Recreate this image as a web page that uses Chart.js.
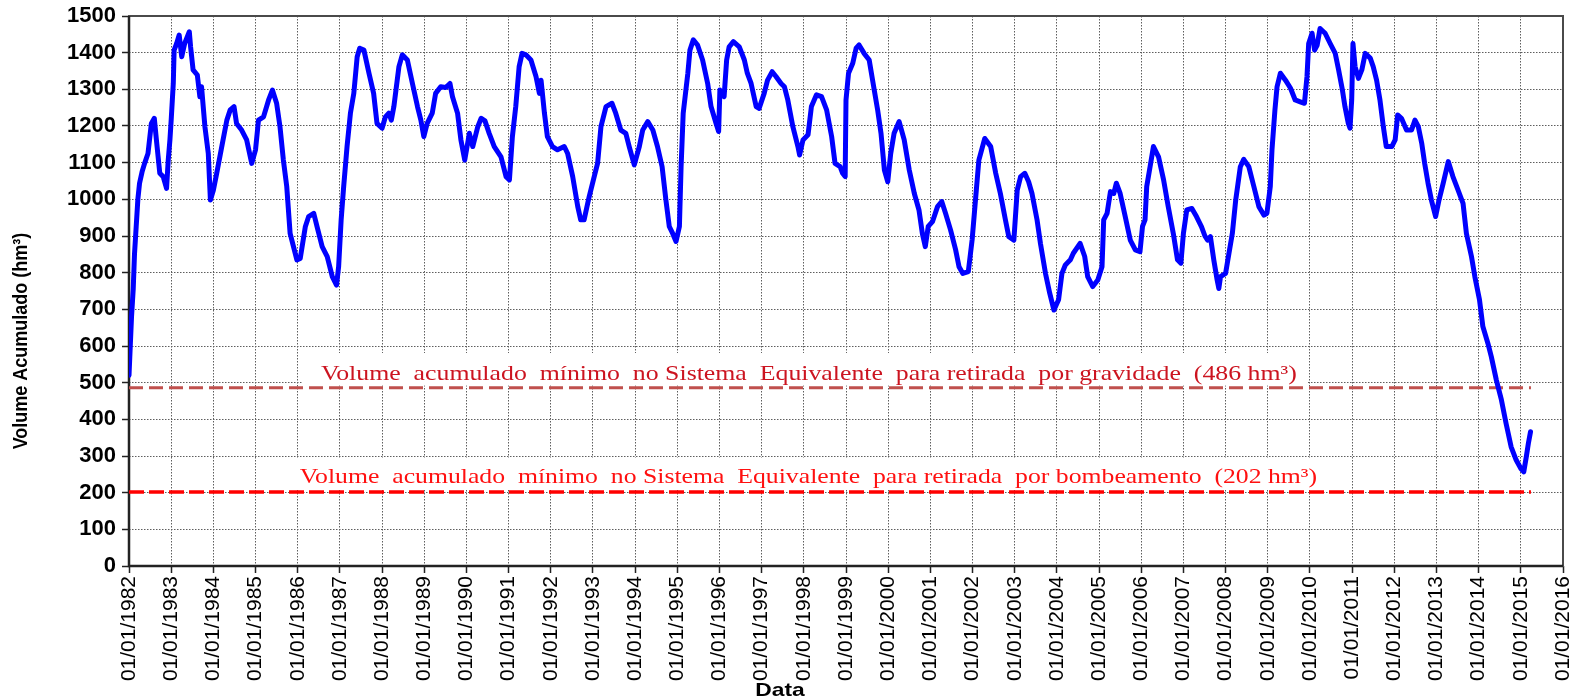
<!DOCTYPE html>
<html>
<head>
<meta charset="utf-8">
<script src="https://cdn.jsdelivr.net/npm/chart.js@4.4.1/dist/chart.umd.min.js"></script>
<style>
html,body{margin:0;padding:0;background:#fff;}
#wrap{width:1585px;height:700px;}
</style>
</head>
<body>
<div id="wrap"><canvas id="volumeChart" width="1585" height="700"></canvas></div>
<script>
/* ===== DADOS ===== */
const anos = [
1982.00,1982.03,1982.06,1982.10,1982.13,1982.17,1982.21,1982.25,1982.31,1982.37,1982.45,1982.53,1982.60,1982.65,1982.73,1982.81,1982.89,1982.93,1982.97,
1983.00,1983.05,1983.07,1983.13,1983.19,1983.25,1983.32,1983.43,1983.46,1983.52,1983.62,1983.68,1983.72,1983.80,1983.88,1983.93,
1984.00,1984.08,1984.20,1984.32,1984.40,1984.49,1984.55,1984.67,1984.79,1984.91,
1985.00,1985.07,1985.19,1985.31,1985.40,1985.50,1985.58,1985.66,1985.74,1985.82,1985.90,1985.98,
1986.06,1986.18,1986.26,1986.38,1986.46,1986.58,1986.70,1986.82,1986.92,1986.97,
1987.03,1987.09,1987.17,1987.25,1987.33,1987.41,1987.47,1987.57,1987.69,1987.80,1987.88,
1988.00,1988.08,1988.16,1988.22,1988.28,1988.40,1988.48,1988.60,1988.72,1988.84,1988.92,1988.99,
1989.07,1989.19,1989.27,1989.39,1989.51,1989.61,1989.67,1989.79,1989.87,1989.96,
1990.07,1990.15,1990.27,1990.35,1990.44,1990.54,1990.66,1990.82,1990.94,
1991.02,1991.09,1991.17,1991.25,1991.32,1991.41,1991.53,1991.65,1991.73,1991.77,1991.85,1991.92,
1992.04,1992.16,1992.32,1992.40,1992.52,1992.64,1992.71,1992.79,1992.91,
1993.03,1993.11,1993.19,1993.31,1993.45,1993.54,1993.66,1993.78,1993.86,1993.98,
1994.10,1994.18,1994.30,1994.42,1994.53,1994.64,1994.73,1994.81,1994.89,1994.97,
1995.05,1995.09,1995.14,1995.25,1995.30,1995.38,1995.48,1995.60,1995.72,1995.80,1995.92,1995.98,
1996.01,1996.11,1996.17,1996.23,1996.33,1996.47,1996.59,1996.66,1996.75,1996.87,1996.94,
1997.06,1997.14,1997.25,1997.34,1997.46,1997.54,1997.62,1997.74,1997.86,1997.90,1997.98,
1998.10,1998.18,1998.30,1998.42,1998.54,1998.66,1998.74,1998.86,1998.92,1998.98,
1999.00,1999.06,1999.16,1999.24,1999.31,1999.43,1999.55,1999.63,1999.75,1999.83,1999.91,1999.99,
2000.06,2000.14,2000.26,2000.38,2000.50,2000.62,2000.73,2000.81,2000.88,2000.95,
2001.05,2001.17,2001.27,2001.36,2001.48,2001.60,2001.68,2001.77,2001.90,2001.99,
2002.07,2002.15,2002.29,2002.43,2002.55,2002.66,2002.78,2002.86,2002.98,
2003.06,2003.14,2003.24,2003.33,2003.41,2003.53,2003.61,2003.73,2003.83,2003.93,
2004.04,2004.12,2004.20,2004.32,2004.39,2004.55,2004.66,2004.73,2004.85,2004.97,
2005.07,2005.11,2005.19,2005.27,2005.35,2005.41,2005.50,2005.62,2005.74,2005.86,2005.97,
2006.03,2006.09,2006.13,2006.21,2006.29,2006.41,2006.53,2006.64,2006.76,2006.86,2006.94,
2007.00,2007.08,2007.20,2007.31,2007.43,2007.51,2007.57,2007.64,2007.72,2007.80,2007.84,2007.88,
2008.00,2008.08,2008.16,2008.24,2008.35,2008.43,2008.55,2008.67,2008.79,2008.91,2008.98,
2009.06,2009.10,2009.17,2009.22,2009.30,2009.42,2009.54,2009.65,2009.77,2009.87,2009.93,2009.97,
2010.05,2010.11,2010.17,2010.24,2010.36,2010.48,2010.60,2010.68,2010.77,2010.83,2010.91,2010.95,2010.99,
2011.02,2011.07,2011.15,2011.23,2011.31,2011.43,2011.50,2011.58,2011.66,2011.74,2011.81,2011.94,
2012.02,2012.08,2012.17,2012.29,2012.41,2012.49,2012.57,2012.65,2012.72,2012.80,2012.88,2012.98,
2013.06,2013.16,2013.28,2013.39,2013.51,2013.63,2013.71,2013.83,2013.91,
2014.02,2014.10,2014.22,2014.30,2014.42,2014.54,2014.65,2014.77,2014.89,
2015.00,2015.07,2015.13,2015.18,2015.23
];

const volume = [
520,600,680,755,850,925,1000,1044,1075,1098,1125,1207,1221,1162,1071,1062,1030,1107,1162,
1216,1316,1407,1425,1448,1389,1425,1457,1416,1353,1339,1280,1307,1198,1125,998,
1025,1071,1144,1216,1244,1253,1207,1189,1162,1098,
1135,1216,1225,1271,1298,1262,1198,1107,1035,907,871,835,
839,925,953,962,925,871,844,789,766,816,
944,1035,1144,1235,1289,1389,1412,1407,1344,1289,1207,
1194,1225,1235,1216,1253,1362,1394,1380,1316,1253,1216,1171,
1207,1235,1289,1307,1305,1316,1280,1235,1162,1107,
1180,1144,1198,1221,1214,1180,1144,1116,1062,
1053,1171,1253,1362,1398,1394,1380,1335,1289,1325,1235,1171,
1144,1135,1144,1125,1062,980,944,944,1007,
1062,1098,1198,1253,1262,1235,1189,1180,1144,1094,
1144,1189,1212,1189,1144,1089,998,926,907,885,
926,1089,1235,1344,1407,1435,1421,1380,1316,1253,1207,1185,
1298,1280,1380,1416,1430,1416,1380,1344,1316,1253,1248,
1289,1325,1348,1335,1316,1307,1271,1198,1144,1121,1162,
1176,1253,1285,1280,1244,1171,1098,1089,1071,1062,
1271,1344,1371,1412,1421,1398,1380,1325,1244,1180,1080,1048,
1125,1180,1212,1162,1080,1016,971,907,871,926,
939,980,994,962,916,862,816,798,803,889,
998,1107,1166,1144,1071,1016,944,898,889,
1025,1062,1071,1048,1016,944,880,798,744,698,
726,798,821,835,853,880,844,789,762,780,
816,944,962,1021,1016,1044,1016,953,889,862,857,
926,944,1035,1089,1144,1116,1053,980,907,835,826,
907,971,975,953,925,900,889,898,835,780,757,789,
798,853,907,998,1089,1109,1089,1035,980,957,962,
1035,1135,1244,1307,1344,1325,1303,1271,1266,1262,1335,1425,
1453,1407,1420,1466,1453,1425,1398,1353,1298,1253,1207,1194,1271,
1425,1362,1330,1353,1398,1385,1362,1325,1271,1198,1144,1144,
1162,1230,1221,1189,1189,1216,1198,1153,1098,1044,998,953,
998,1044,1103,1062,1026,989,907,844,789,
726,653,607,571,507,453,389,325,289,
266,257,298,335,366
];

const limiteGravidade = 486;
const limiteBombeamento = 202;
const inicioLimites = 1982;
const fimLimites = 2015.24;

const anoInicial = 1982;
const anoFinal = 2016;
const prefixoData = "01/01/";

const tituloX = "Data";
const tituloY = "Volume Acumulado (hm³)";
const textoGravidade = "Volume  acumulado  mínimo  no Sistema  Equivalente  para retirada  por gravidade  (486 hm³)";
const textoBombeamento = "Volume  acumulado  mínimo  no Sistema  Equivalente  para retirada  por bombeamento  (202 hm³)";

/* ===== POSICOES DAS ANOTACOES (em unidades dos eixos) ===== */
const anotacoes = [
  { texto: textoGravidade, cor: "#CC1420", inicio: 1986.55, fim: 2009.69, base: 508, caixa: [1986.1, 2009.95, 581, 492] },
  { texto: textoBombeamento, cor: "#FF1010", inicio: 1986.05, fim: 2010.17, base: 226, caixa: [1985.7, 2010.4, 296, 208] }
];

const pontos = anos.map((a, i) => ({ x: a, y: volume[i] }));

const fonteSans = "'Liberation Sans', Arial, sans-serif";

/* ===== PLUGIN: caixas brancas, textos, moldura e titulos ===== */
const anotacoesPlugin = {
  id: "anotacoes",
  beforeDatasetsDraw(chart) {
    const { ctx, chartArea, scales: { x, y } } = chart;
    ctx.save();
    ctx.fillStyle = "#ffffff";
    anotacoes.forEach(a => {
      const x1 = x.getPixelForValue(a.caixa[0]);
      const x2 = x.getPixelForValue(a.caixa[1]);
      const y1 = y.getPixelForValue(a.caixa[2]);
      const y2 = y.getPixelForValue(a.caixa[3]);
      ctx.fillRect(x1, y1, x2 - x1, y2 - y1);
    });

    ctx.font = "21px 'Liberation Serif', 'Times New Roman', serif";
    ctx.textBaseline = "alphabetic";
    ctx.textAlign = "left";
    anotacoes.forEach(a => {
      const w = ctx.measureText(a.texto).width;
      const x1 = x.getPixelForValue(a.inicio);
      const x2 = x.getPixelForValue(a.fim);
      ctx.save();
      ctx.translate(x1, y.getPixelForValue(a.base));
      ctx.scale((x2 - x1) / w, 1);
      ctx.fillStyle = a.cor;
      ctx.fillText(a.texto, 0, 0);
      ctx.restore();
    });

    // moldura
    ctx.strokeStyle = "#4a4a4a";
    ctx.lineWidth = 2;
    ctx.strokeRect(chartArea.left, chartArea.top, chartArea.right - chartArea.left, chartArea.bottom - chartArea.top);
    ctx.strokeStyle = "#222";
    ctx.lineWidth = 2.5;
    ctx.beginPath();
    ctx.moveTo(chartArea.left, chartArea.top);
    ctx.lineTo(chartArea.left, chartArea.bottom);
    ctx.lineTo(chartArea.right, chartArea.bottom);
    ctx.stroke();
    ctx.restore();
  },
  afterDraw(chart) {
    const { ctx } = chart;
    ctx.save();
    ctx.fillStyle = "#000";
    ctx.textAlign = "center";
    ctx.textBaseline = "middle";
    ctx.font = "bold 18px " + fonteSans;
    // titulo do eixo Y
    ctx.save();
    ctx.translate(21, 341);
    ctx.rotate(-Math.PI / 2);
    ctx.scale(1, 1.12);
    ctx.fillText(tituloY, 0, 0);
    ctx.restore();
    // titulo do eixo X
    ctx.save();
    ctx.font = "bold 19px " + fonteSans;
    ctx.translate(780, 691);
    ctx.scale(1.2, 1);
    ctx.fillText(tituloX, 0, 0);
    ctx.restore();
    ctx.restore();
  }
};

const gradeOpcoes = {
  color: "#5e5e5e",
  lineWidth: 1,
  tickLength: 7,
  tickColor: "#222",
  tickWidth: 1.5,
  tickBorderDash: []
};

const ctx1 = document.getElementById("volumeChart");

new Chart(ctx1, {
  type: "line",
  data: {
    datasets: [
      {
        label: "Volume acumulado",
        data: pontos,
        borderColor: "#0000FF",
        borderWidth: 5,
        pointRadius: 0,
        tension: 0,
        borderJoinStyle: "round",
        borderCapStyle: "round",
        fill: false,
        order: 0
      },
      {
        label: "Gravidade",
        data: [{ x: inicioLimites, y: limiteGravidade }, { x: fimLimites, y: limiteGravidade }],
        borderColor: "#C0504D",
        borderWidth: 3,
        borderDash: [14, 6],
        pointRadius: 0,
        fill: false,
        order: 1
      },
      {
        label: "Bombeamento",
        data: [{ x: inicioLimites, y: limiteBombeamento }, { x: fimLimites, y: limiteBombeamento }],
        borderColor: "#FF0000",
        borderWidth: 3.5,
        borderDash: [15, 5],
        pointRadius: 0,
        fill: false,
        order: 2
      }
    ]
  },
  options: {
    responsive: false,
    animation: false,
    events: [],
    layout: { padding: { top: 16, right: 22, left: 0, bottom: 0 } },
    plugins: {
      legend: { display: false },
      tooltip: { enabled: false }
    },
    scales: {
      x: {
        type: "linear",
        min: anoInicial,
        max: anoFinal,
        afterFit: s => { s.height = 134; s.paddingLeft = 0; s.paddingRight = 0; },
        afterBuildTicks: s => {
          const t = [];
          for (let a = anoInicial; a <= anoFinal; a++) t.push({ value: a });
          s.ticks = t;
        },
        ticks: {
          autoSkip: false,
          maxRotation: 90,
          minRotation: 90,
          padding: 3,
          color: "#000",
          font: { family: fonteSans, size: 21 },
          callback: v => prefixoData + v
        },
        grid: gradeOpcoes,
        border: { display: false, dash: [1.5, 1.5] },
        title: { display: false }
      },
      y: {
        min: 0,
        max: 1500,
        afterFit: s => { s.width = 129; s.paddingTop = 0; s.paddingBottom = 0; },
        ticks: {
          stepSize: 100,
          padding: 6,
          color: "#000",
          font: { family: fonteSans, size: 22, weight: "bold" },
          callback: v => String(v)
        },
        grid: gradeOpcoes,
        border: { display: false, dash: [1.5, 1.5] },
        title: { display: false }
      }
    }
  },
  plugins: [anotacoesPlugin]
});
</script>
</body>
</html>
